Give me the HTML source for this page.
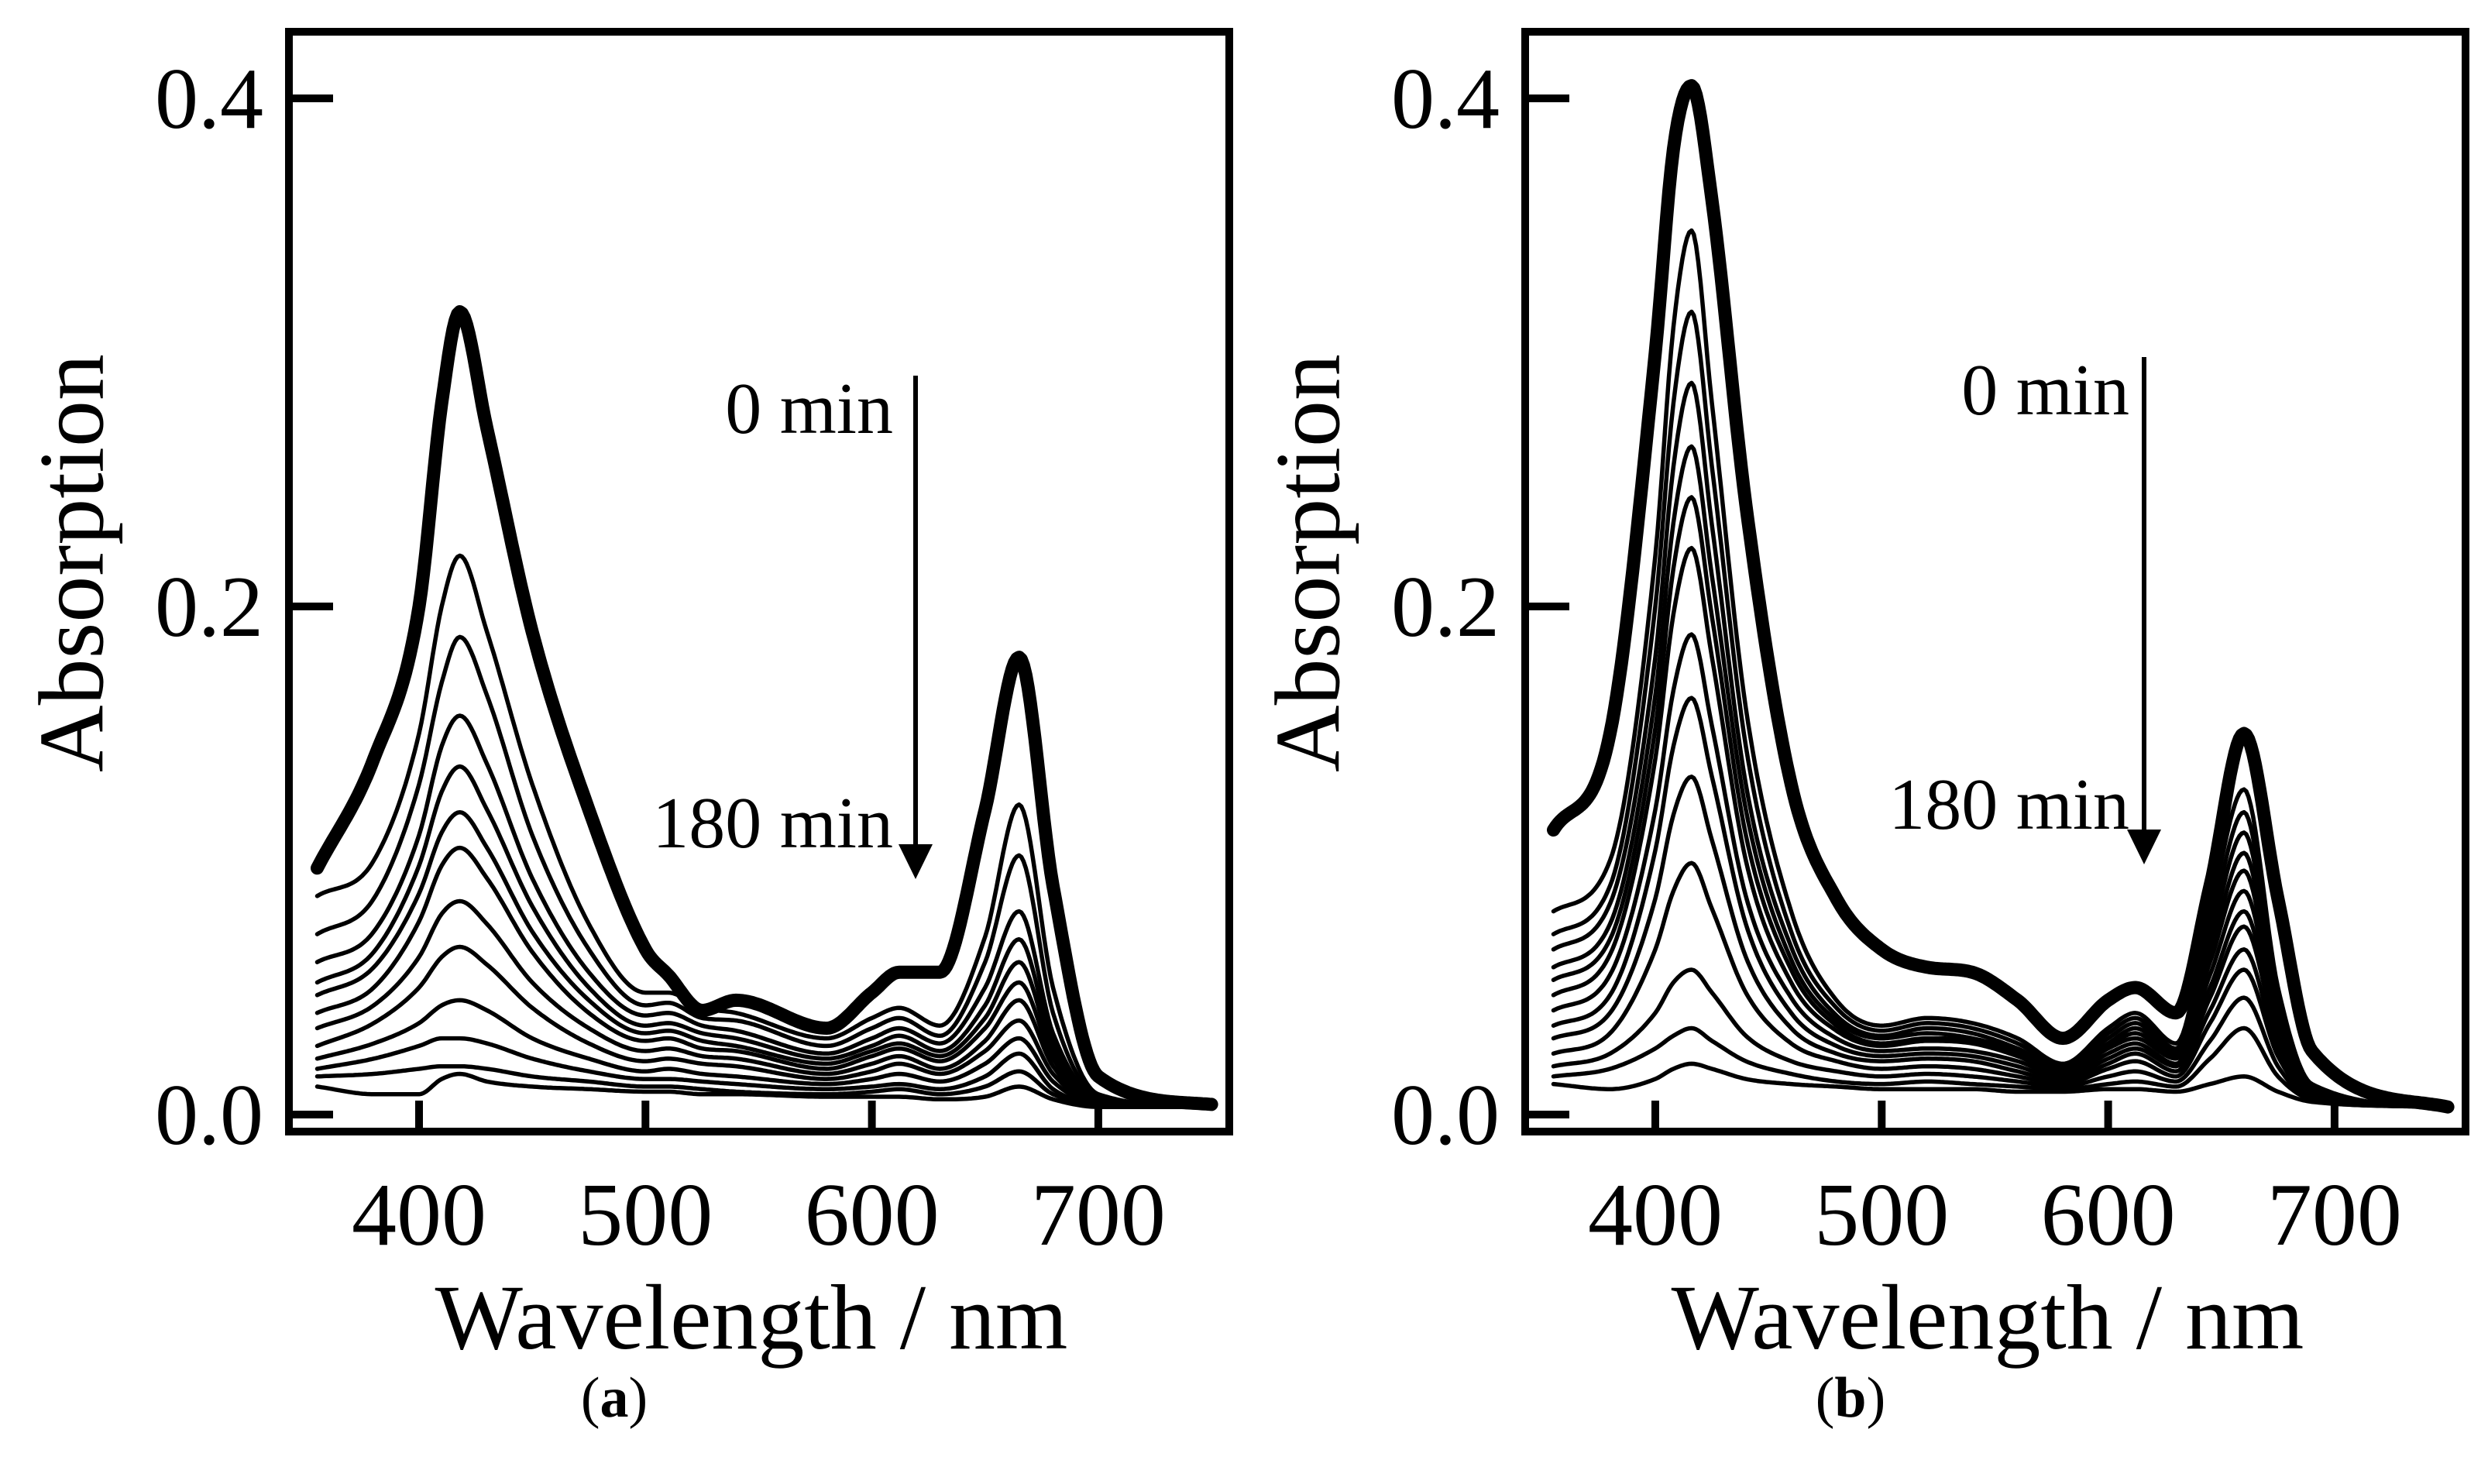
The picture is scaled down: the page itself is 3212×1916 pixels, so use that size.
<!DOCTYPE html>
<html><head><meta charset="utf-8"><style>
html,body{margin:0;padding:0;background:#fff;}
svg{display:block;}
text{font-family:"Liberation Serif",serif;fill:#000;}
</style></head><body>
<svg id="chart" width="3212" height="1916" viewBox="0 0 3212 1916" xmlns="http://www.w3.org/2000/svg"></svg>
<script>
// ---- Panel (a) data ----
const wlA = [355,380,400,410,418,430,450,475,500,510,525,540,580,600,612,630,650,665,680,700,750];
const thickA = [0.097,0.14,0.20,0.28,0.316,0.27,0.19,0.12,0.065,0.055,0.041,0.045,0.034,0.048,0.056,0.056,0.12,0.180,0.09,0.015,0.004];
const thinA = [
[.086,.10,.15,.20,.220,.19,.13,.075,.048,.048,.042,.040,.030,.038,.042,.035,.07,.122,.05,.008,.003],
[.071,.085,.13,.17,.188,.165,.11,.065,.043,.044,.038,.037,.027,.034,.038,.031,.06,.102,.04,.007,.003],
[.060,.072,.11,.145,.157,.138,.093,.056,.039,.040,.035,.033,.024,.030,.034,.028,.05,.080,.032,.006,.003],
[.052,.064,.098,.127,.137,.12,.082,.05,.035,.036,.032,.030,.022,.027,.031,.025,.043,.069,.028,.006,.003],
[.047,.058,.087,.111,.119,.105,.072,.045,.032,.033,.029,.027,.020,.025,.028,.023,.038,.060,.025,.005,.003],
[.040,.050,.076,.098,.105,.093,.064,.040,.029,.030,.026,.025,.018,.023,.026,.021,.034,.052,.022,.005,.003],
[.034,.043,.062,.079,.084,.075,.052,.034,.025,.026,.023,.022,.016,.020,.023,.018,.029,.045,.019,.004,.003],
[.027,.036,.050,.062,.066,.059,.042,.028,.021,.022,.020,.019,.014,.017,.020,.016,.025,.037,.016,.004,.003],
[.022,.028,.036,.043,.045,.041,.030,.022,.017,.018,.016,.015,.012,.014,.016,.013,.020,.030,.013,.004,.003],
[.018,.022,.027,.030,.030,.028,.022,.017,.014,.014,.013,.012,.010,.011,.012,.010,.015,.024,.010,.004,.003],
[.015,.016,.018,.019,.019,.018,.015,.013,.011,.011,.010,.009,.008,.009,.010,.008,.011,.017,.008,.004,.003],
[.011,.008,.008,.014,.016,.013,.011,.010,.009,.009,.008,.008,.007,.007,.007,.006,.007,.011,.006,.003,.003]
];
// ---- Panel (b) data ----
const wlB = [355,380,400,408,416,425,440,460,480,500,520,540,560,580,600,612,630,645,660,675,690,750];
const thickB = [.112,.15,.30,.38,.405,.36,.24,.13,.085,.065,.058,.056,.045,.030,.045,.050,.040,.09,.150,.085,.025,.003];
const thinB = [
[.080,.10,.22,.31,.348,.28,.16,.08,.045,.035,.038,.036,.030,.020,.034,.040,.028,.08,.128,.05,.012,.003],
[.071,.09,.20,.28,.316,.255,.145,.072,.042,.033,.036,.034,.028,.019,.032,.038,.026,.074,.119,.046,.011,.003],
[.065,.083,.18,.255,.288,.232,.13,.066,.039,.031,.034,.032,.026,.018,.030,.036,.025,.069,.111,.043,.010,.003],
[.058,.075,.165,.233,.263,.212,.12,.061,.037,.030,.032,.030,.025,.017,.028,.034,.024,.064,.103,.040,.010,.003],
[.053,.069,.152,.215,.243,.196,.11,.057,.035,.028,.030,.029,.024,.016,.027,.032,.023,.060,.096,.038,.009,.003],
[.047,.063,.14,.197,.223,.18,.10,.052,.033,.027,.029,.028,.023,.016,.026,.030,.022,.055,.088,.035,.009,.003],
[.041,.055,.12,.167,.189,.153,.086,.046,.030,.025,.026,.025,.021,.015,.024,.028,.020,.050,.080,.032,.008,.003],
[.035,.047,.104,.145,.164,.133,.075,.040,.027,.023,.024,.023,.019,.014,.022,.026,.019,.046,.074,.030,.008,.003],
[.030,.040,.085,.118,.133,.108,.062,.034,.024,.021,.022,.021,.017,.013,.020,.024,.017,.041,.065,.026,.007,.003],
[.024,.032,.065,.088,.099,.081,.048,.028,.021,.018,.019,.018,.015,.012,.018,.021,.015,.036,.057,.023,.007,.003],
[.019,.024,.040,.052,.057,.048,.031,.021,.017,.015,.016,.015,.013,.011,.015,.017,.013,.029,.046,.019,.006,.003],
[.015,.018,.026,.031,.034,.029,.021,.016,.013,.012,.013,.012,.011,.010,.012,.013,.011,.022,.034,.015,.006,.003],
[.012,.010,.014,.018,.020,.018,.014,.012,.011,.010,.010,.010,.009,.009,.010,.010,.009,.012,.015,.009,.005,.003]
];
const xTicks = [400,500,600,700];
const yTicks = [0.0,0.2,0.4];
const yTickLabels = ["0.0","0.2","0.4"];

const NS = "http://www.w3.org/2000/svg";
const svg = document.getElementById('chart');
function mk(tag, attrs, parent){
  const e = document.createElementNS(NS, tag);
  for (const k in attrs) e.setAttribute(k, attrs[k]);
  (parent||svg).appendChild(e);
  return e;
}
function monotone(xs, ys){
  const n = xs.length, d = [], m = new Array(n);
  for (let i=0;i<n-1;i++) d.push((ys[i+1]-ys[i])/(xs[i+1]-xs[i]));
  m[0]=d[0]; m[n-1]=d[n-2];
  for (let i=1;i<n-1;i++){ m[i] = (d[i-1]*d[i]<=0)?0:(d[i-1]+d[i])/2; }
  for (let i=0;i<n-1;i++){
    if (d[i]===0){m[i]=0;m[i+1]=0;continue;}
    const a=m[i]/d[i], b=m[i+1]/d[i], s=a*a+b*b;
    if (s>9){const t=3/Math.sqrt(s); m[i]=t*a*d[i]; m[i+1]=t*b*d[i];}
  }
  return function(x){
    let i=0; while(i<n-2 && x>xs[i+1]) i++;
    const h=xs[i+1]-xs[i], t=(x-xs[i])/h, t2=t*t, t3=t2*t;
    return (2*t3-3*t2+1)*ys[i]+(t3-2*t2+t)*h*m[i]+(-2*t3+3*t2)*ys[i+1]+(t3-t2)*h*m[i+1];
  };
}
function panel(off, wl, thick, thin, label, key, ann){
  const xS = w => off + 541 + (w-400)*2.923;
  const yS = v => 1439 - v*3280;
  const g = mk('g', {});
  
  
  const clipId = 'clip'+key;
  const cp = mk('clipPath', {id: clipId}, g);
  mk('rect', {x: off+378, y: 46, width: 1204, height: 1410}, cp);
  const lines = mk('g', {'clip-path': 'url(#'+clipId+')'}, g);
  function curve(vals, w, name){
    const f = monotone(wl, vals);
    let dstr = '';
    for (let x = wl[0]; x <= wl[wl.length-1]; x += 1){
      dstr += (dstr ? 'L' : 'M') + xS(x).toFixed(1) + ',' + yS(f(x)).toFixed(1);
    }
    const p = mk('path', {d: dstr, fill: 'none', stroke: '#000', 'stroke-width': w, 'stroke-linejoin': 'round', 'stroke-linecap': 'round'}, lines);
    
    
  }
  thin.forEach((c, i) => curve(c, 5.5, 'spectrum-'+key+'-'+(i+1)));
  curve(thick, 17, 'spectrum-'+key+'-0min');
  const fr = mk('rect', {x: off+373, y: 41, width: 1214, height: 1420, fill: 'none', stroke: '#000', 'stroke-width': 10}, g);
  
  
  xTicks.forEach(t => {
    const l = mk('line', {x1: xS(t), x2: xS(t), y1: 1461, y2: 1421, stroke: '#000', 'stroke-width': 10}, g);
    
    
    const tx = mk('text', {x: xS(t), y: 1607, 'font-size': 116, 'text-anchor': 'middle'}, g);
    tx.textContent = t;
    
    
  });
  yTicks.forEach((t, i) => {
    const l = mk('line', {x1: off+373, x2: off+430, y1: yS(t), y2: yS(t), stroke: '#000', 'stroke-width': 10}, g);
    
    
    const tx = mk('text', {x: off+340, y: yS(t)+38, 'font-size': 112, 'text-anchor': 'end'}, g);
    tx.textContent = yTickLabels[i];
    
    
  });
  const xt = mk('text', {x: off+970, y: 1741, 'font-size': 120, 'text-anchor': 'middle'}, g);
  xt.textContent = 'Wavelength / nm';
  
  
  const yt = mk('text', {x: off+92, y: 727, 'font-size': 120, 'text-anchor': 'middle', transform: 'rotate(-90 '+(off+92)+' 727)', 'dominant-baseline': 'central'}, g);
  yt.textContent = 'Absorption';
  
  
  const pl = mk('text', {x: off+793, y: 1829, 'font-size': 74, 'text-anchor': 'middle'}, g);
  pl.innerHTML = '(<tspan font-weight="bold">'+label+'</tspan>)';
  
  
  const a0 = mk('text', {x: off+1153, y: ann.y0, 'font-size': 94, 'text-anchor': 'end'}, g);
  a0.textContent = '0 min';
  
  
  const a1 = mk('text', {x: off+1153, y: ann.y1, 'font-size': 94, 'text-anchor': 'end'}, g);
  a1.textContent = '180 min';
  
  
  const ax = off + ann.ax;
  const ar = mk('line', {x1: ax, x2: ax, y1: ann.top, y2: ann.tip-40, stroke: '#000', 'stroke-width': 6}, g);
  
  
  const ah = mk('polygon', {points: (ax-22)+','+(ann.tip-45)+' '+(ax+22)+','+(ann.tip-45)+' '+ax+','+ann.tip, fill: '#000'}, g);
  
  
}
panel(0, wlA, thickA, thinA, 'a', 'a', {y0: 559, y1: 1094, ax: 1182, top: 485, tip: 1135});
panel(1596, wlB, thickB, thinB, 'b', 'b', {y0: 535, y1: 1070, ax: 1172, top: 461, tip: 1116});
</script>
</body></html>
